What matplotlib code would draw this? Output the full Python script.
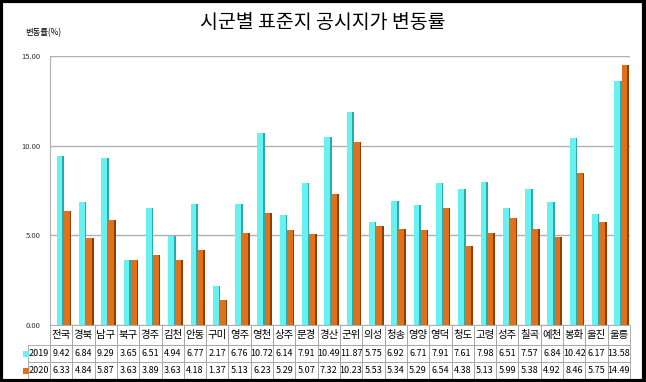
import matplotlib
matplotlib.use("Agg")
import matplotlib.pyplot as plt
import numpy as np
from matplotlib.patches import Rectangle

plt.rcParams['font.family'] = ['Noto Sans CJK KR', 'DejaVu Sans']

categories = ['전국', '경북', '남구', '북구', '경주', '김천', '안동', '구미', '영주', '영천', '상주', '문경', '경산',
              '군위', '의성', '청송', '영양', '영덕', '청도', '고령', '성주', '칠곡', '예천', '봉화', '울진', '울릉']
v2019 = [9.42, 6.84, 9.29, 3.65, 6.51, 4.94, 6.77, 2.17, 6.76, 10.72, 6.14, 7.91, 10.49,
         11.87, 5.75, 6.92, 6.71, 7.91, 7.61, 7.98, 6.51, 7.57, 6.84, 10.42, 6.17, 13.58]
v2020 = [6.33, 4.84, 5.87, 3.63, 3.89, 3.63, 4.18, 1.37, 5.13, 6.23, 5.29, 5.07, 7.32,
         10.23, 5.53, 5.34, 5.29, 6.54, 4.38, 5.13, 5.99, 5.38, 4.92, 8.46, 5.75, 14.49]
series_names = ['2019', '2020']
yticks = [0, 5, 10, 15]

c19, c19s = '#66F2F2', '#2FA8A8'
c20, c20s = '#E0701A', '#8E3F08'

W, H = 646, 382
fig = plt.figure(figsize=(W/100, H/100), dpi=100)
fig.patch.set_facecolor('white')

AX_L, AX_R, AX_T, AX_B = 50, 630, 56, 325
aw, ah = AX_R - AX_L, AX_B - AX_T
ax = fig.add_axes([AX_L/W, 1-AX_B/H, aw/W, ah/H])
x = np.arange(len(categories))
bw = 0.26
side = 0.07
ax.bar(x - 0.2, v2019, width=bw, color=c19, align='edge', zorder=3)
ax.bar(x - 0.2 + bw, v2019, width=side, color=c19s, align='edge', zorder=3)
ax.bar(x + 0.12, v2020, width=bw, color=c20, align='edge', zorder=3)
ax.bar(x + 0.12 + bw, v2020, width=side, color=c20s, align='edge', zorder=3)

ax.set_xlim(-0.5, len(categories) - 0.5)
ax.set_ylim(0, 15)
ax.set_yticks(yticks)
ax.set_yticklabels([f'{t:.2f}' for t in yticks], fontsize=5.5, color='#333333')
ax.tick_params(axis='y', length=0, pad=7)
ax.set_xticks([])
ax.grid(axis='y', color='#B0B0B0', linewidth=1.0, zorder=0)
for s in ['top', 'right', 'bottom']:
    ax.spines[s].set_visible(False)
ax.spines['left'].set_color('#B0B0B0')

# table
n = len(categories)
cell_text = [[f'{v:.2f}' for v in v2019], [f'{v:.2f}' for v in v2020]]
tbl = ax.table(cellText=cell_text, rowLabels=series_names, colLabels=categories,
               cellLoc='center', rowLoc='right', loc='bottom',
               bbox=[0, -54/ah, 1, 54/ah])
tbl.auto_set_font_size(False)
for (r, c), cell in tbl.get_celld().items():
    cell.set_edgecolor('#A0A0A0')
    cell.set_linewidth(0.6)
    cell.get_text().set_fontsize(6.5)
    cell.set_width(30/aw if c == -1 else 1/n)
    cell.set_height((20 if r == 0 else 17)/ah)
    if r == 0:
        cell.get_text().set_fontsize(7.5)
    if c == -1:
        cell.PAD = 0.04

# legend squares in row labels
row_y = [1-353.5/H, 1-370.5/H]
for yy, col in zip(row_y, [c19, c20]):
    fig.patches.append(Rectangle((23/W, yy - 3/H), 6/W, 6/H, transform=fig.transFigure,
                                 facecolor=col, edgecolor='none'))

fig.text(0.5, 1-22/H, '시군별 표준지 공시지가 변동률', ha='center', va='center', fontsize=14)
fig.text(25/W, 1-33/H, '변동률(%)', ha='left', va='center', fontsize=6)

# outer border
fig.patches.append(Rectangle((0.002, 0.003), 0.995, 0.994, transform=fig.transFigure,
                             fill=False, edgecolor='black', linewidth=3))

fig.savefig('out.png', dpi=100)
